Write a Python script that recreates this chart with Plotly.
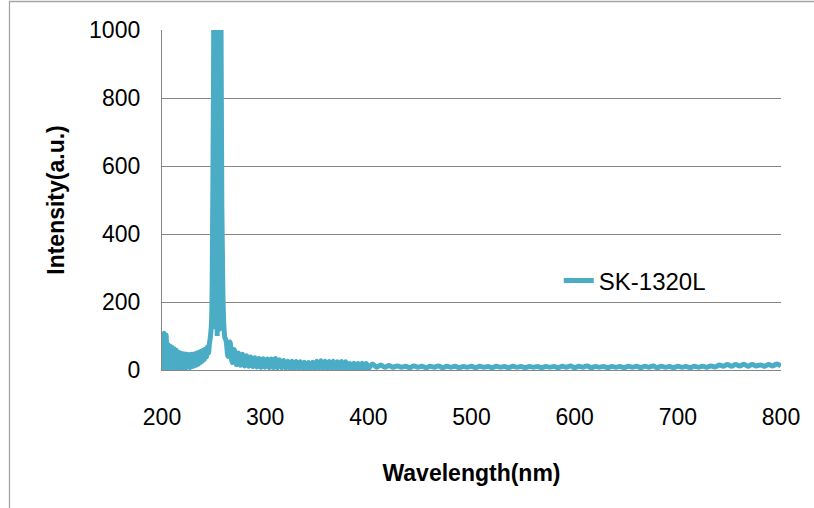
import plotly.graph_objects as go

# Emission spectrum of SK-1320L: wavelength (nm) and intensity (a.u.)
# 200-245 nm, 1 nm steps (noisy short-wave tail)
wl_short = list(range(200, 246))
int_short = [
    112, 4, 108, 2, 103, 5, 74, 3, 70, 6,
    66, 4, 62, 7, 58, 3, 52, 6, 50, 4,
    48, 8, 47, 5, 46, 9, 45, 7, 46, 10,
    46, 12, 48, 14, 50, 17, 52, 21, 55, 26,
    58, 31, 62, 38, 68, 50,
]

# 246-261 nm (the strong line near 254 nm, saturated and clipped by the axis)
wl_peak = [246, 247, 248, 249, 250, 251, 251.5, 252, 253, 253.5, 254,
           255, 255.5, 256, 257, 258, 259, 260, 261]
int_peak = [78, 100, 140, 420, 900, 4000, 120, 4000, 9000, 100, 9000,
            4000, 120, 4000, 1150, 480, 230, 130, 95]

# 262-400 nm, 2 nm steps
wl_mid = list(range(262, 401, 2))
int_mid = [
    88, 40, 82, 22, 60, 16, 50, 14, 46, 12,
    42, 11, 38, 10, 36, 9, 34, 8, 33, 8,
    32, 7, 32, 7, 34, 6, 30, 6, 28, 5,
    26, 5, 26, 4, 25, 5, 24, 4, 23, 5,
    22, 4, 23, 5, 26, 4, 27, 5, 26, 4,
    25, 5, 26, 4, 24, 5, 25, 4, 24, 5,
    19, 4, 20, 5, 19, 4, 20, 5, 19, 4,
]

# 404-800 nm, 4 nm steps
wl_long = list(range(404, 801, 4))
int_long = [
    18, 8, 15, 8, 13, 8, 12, 8, 11, 7,
    12, 8, 11, 7, 11, 8, 12, 7, 11, 8,
    11, 7, 10, 8, 11, 7, 11, 8, 10, 7,
    11, 8, 10, 7, 11, 8, 10, 7, 10, 8,
    10, 7, 10, 8, 10, 7, 11, 8, 12, 7,
    11, 8, 12, 7, 10, 8, 10, 7, 10, 8,
    10, 7, 11, 8, 11, 7, 11, 8, 12, 7,
    11, 8, 10, 7, 11, 8, 10, 7, 11, 8,
    11, 8, 12, 9, 15, 11, 16, 11, 16, 12,
    17, 11, 16, 12, 15, 11, 16, 12, 18, 12,
]

wavelength = wl_short + wl_peak + wl_mid + wl_long
intensity = int_short + int_peak + int_mid + int_long

x_ticks = [200, 300, 400, 500, 600, 700, 800]
y_ticks = [0, 200, 400, 600, 800, 1000]

FONT = "Liberation Sans, Arial, sans-serif"
LINE_COLOR = "#4BACC6"
AXIS_GRAY = "#868686"

fig = go.Figure(
    go.Scatter(
        x=wavelength,
        y=intensity,
        mode="lines",
        name="SK-1320L",
        line=dict(color=LINE_COLOR, width=5, shape="spline", smoothing=1),
    )
)

fig.update_layout(
    width=814,
    height=508,
    margin=dict(l=162, r=33, t=30, b=138),
    paper_bgcolor="white",
    plot_bgcolor="white",
    font=dict(family=FONT, color="black", size=23),
    showlegend=True,
    legend=dict(
        x=0.641, y=0.262, xanchor="left", yanchor="middle",
        bgcolor="rgba(0,0,0,0)", borderwidth=0,
        font=dict(family=FONT, size=24, color="black"),
    ),
    shapes=[
        # chart frame
        dict(type="rect", xref="paper", yref="paper",
             x0=-0.2464, y0=-0.45, x1=1.2, y1=1.0838,
             line=dict(color="#a6a6a6", width=1.3), layer="below"),
    ],
)

fig.update_xaxes(
    range=[200, 800],
    tickvals=x_ticks,
    ticktext=[str(v) for v in x_ticks],
    showgrid=False,
    zeroline=False,
    showline=True,
    linecolor=AXIS_GRAY,
    linewidth=1.3,
    ticks="",
    ticklabelstandoff=26,
    tickfont=dict(family=FONT, size=23, color="black"),
    title=dict(text="Wavelength(nm)", standoff=36,
               font=dict(family=FONT, size=23, color="black", weight="bold")),
)

fig.update_yaxes(
    range=[0, 1000],
    tickvals=y_ticks,
    ticktext=[str(v) for v in y_ticks],
    showgrid=True,
    gridcolor=AXIS_GRAY,
    gridwidth=1,
    zeroline=False,
    showline=True,
    linecolor=AXIS_GRAY,
    linewidth=1.3,
    ticks="",
    ticklabelstandoff=16,
    tickfont=dict(family=FONT, size=23, color="black"),
    title=dict(text="Intensity(a.u.)", standoff=18,
               font=dict(family=FONT, size=23, color="black", weight="bold")),
)

fig.write_html("out.html")
